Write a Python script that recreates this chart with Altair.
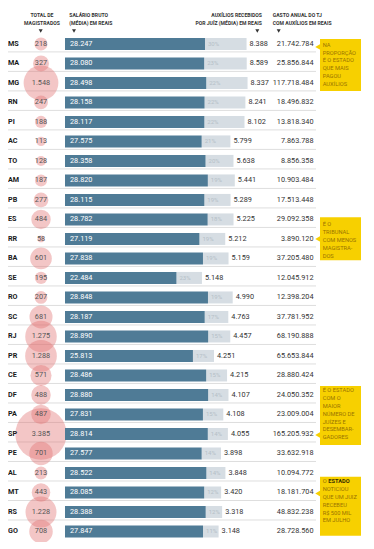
import altair as alt
import pandas as pd

estados = ["MS", "MA", "MG", "RN", "PI", "AC", "TO", "AM", "PB", "ES", "RR", "BA", "SE",
           "RO", "SC", "RJ", "PR", "CE", "DF", "PA", "SP", "PE", "AL", "MT", "RS", "GO"]
magistrados = [218, 327, 1548, 247, 188, 113, 128, 187, 277, 484, 58, 601, 195,
               207, 681, 1275, 1288, 571, 488, 487, 3385, 701, 213, 443, 1228, 708]
salario = [28247, 28080, 28498, 28158, 28117, 27575, 28358, 28820, 28115, 28782, 27119, 27838, 22484,
           28848, 28187, 28890, 25813, 28486, 28880, 27831, 28814, 27577, 28522, 28085, 28388, 27847]
auxilio = [8388, 8589, 8337, 8241, 8102, 5799, 5638, 5441, 5289, 5225, 5212, 5159, 5148,
           4990, 4763, 4457, 4251, 4215, 4107, 4108, 4055, 3898, 3848, 3420, 3318, 3148]
percentual = [30, 23, 22, 22, 22, 21, 20, 19, 19, 18, 19, 19, 23,
              19, 17, 15, 17, 15, 14, 15, 14, 14, 14, 12, 12, 11]
gasto = [21742784, 25856844, 117718484, 18496832, 13818340, 7863788, 8856358, 10903484, 17513448,
         29092358, 3890120, 37205480, 12045912, 12398204, 37781952, 68190888, 65653844, 28880424,
         24050352, 23009004, 165205932, 33632918, 10094772, 18181704, 48832238, 28728560]

cabecalhos = [
    (["TOTAL DE", "MAGISTRADOS"], 34, "center"),
    (["SALÁRIO BRUTO", "(MÉDIA) EM REAIS"], 61.3, "left"),
    (["AUXÍLIOS RECEBIDOS", "POR JUÍZ (MÉDIA) EM REAIS"], 254, "right"),
    (["GASTO ANUAL DO TJ", "COM AUXÍLIOS EM REAIS"], 264.7, "left"),
]
setas_cabecalho = [32.7, 66, 249.3, 270.7]

# callouts: (anchor state for box, box offset, box height, text lines, text dy, arrow state, arrow offset)
notas = [
    ("MA", 1.6, 52, ["NA", "PROPORÇÃO", "É O ESTADO", "QUE MAIS", "PAGOU", "AUXÍLIOS"], -21.7, "MS", 3),
    ("RR", -0.2, 43, ["É O", "TRIBUNAL", "COM MENOS", "MAGISTRA-", "DOS"], -17.5, "RR", 0),
    ("PA", 1.0, 59, ["É O ESTADO", "COM O", "MAIOR", "NÚMERO DE", "JUÍZES E", "DESEMBAR-", "GADORES"], -27, "SP", 1),
    ("RS", -5.7, 59, ["", "NOTICIOU", "QUE UM JUIZ", "RECEBEU", "R$ 500 MIL", "EM JULHO"], -33.5, "MT", 1),
]


def br(n):
    return f"{n:,}".replace(",", ".")


df = pd.DataFrame({"estado": estados, "magistrados": magistrados, "salario": salario,
                   "auxilio": auxilio, "pct": percentual, "gasto": gasto})
df["total"] = df.salario + df.auxilio
df["mag_lbl"] = df.magistrados.map(br)
df["sal_lbl"] = df.salario.map(br)
df["aux_lbl"] = df.auxilio.map(br)
df["gasto_lbl"] = df.gasto.map(br)
df["pct_lbl"] = df.pct.astype(str) + "%"

FONT = "Roboto, sans-serif"
YELLOW = "#f7d000"
NOTE_TXT = "#9a7400"

Y = alt.Y("estado:N", sort=estados, axis=None,
          scale=alt.Scale(range=[26.15, 533.25], paddingInner=0, paddingOuter=0))
XS = alt.Scale(domain=[0, 40000], range=[57, 255.24])

base = alt.Chart(df)

sep = base.transform_filter(alt.datum.estado != "GO").mark_rule(
    color="#dedede", strokeWidth=1, yOffset=8).encode(y=Y, x=alt.value(-1), x2=alt.value(308))

circles = base.mark_circle(color="#e07070", opacity=0.4).encode(
    y=Y, x=alt.value(33),
    size=alt.Size("magistrados:Q", scale=alt.Scale(domain=[0, 3385], range=[0, 2642]), legend=None))

mag_txt = base.mark_text(font=FONT, fontSize=7.3, color="#555").encode(
    y=Y, x=alt.value(33), text="mag_lbl:N")

state_txt = base.mark_text(font=FONT, fontSize=7.2, fontWeight="bold", align="left",
                           color="#1a1a1a").encode(y=Y, x=alt.value(0), text="estado:N")

gray = base.mark_bar(color="#d6dde3", size=12).encode(
    y=Y, x=alt.X("salario:Q", scale=XS, axis=None), x2="total:Q")
dark = base.mark_bar(color="#4f7b96", size=12).encode(
    y=Y, x=alt.X("salario:Q", scale=XS, axis=None))

sal_txt = base.mark_text(font=FONT, fontSize=7.3, color="white", align="left").encode(
    y=Y, x=alt.value(62), text="sal_lbl:N")
pct_txt = base.mark_text(font=FONT, fontSize=6, color="#b5bfc7", align="left", dx=3).encode(
    y=Y, x=alt.X("salario:Q", scale=XS, axis=None), text="pct_lbl:N")
aux_txt = base.mark_text(font=FONT, fontSize=7.3, color="#333", align="left", dx=3).encode(
    y=Y, x=alt.X("total:Q", scale=XS, axis=None), text="aux_lbl:N")
gasto_txt = base.mark_text(font=FONT, fontSize=7.3, color="#333", align="right").encode(
    y=Y, x=alt.value(305.5), text="gasto_lbl:N")

layers = [sep, circles, mag_txt, state_txt, gray, dark, sal_txt, pct_txt, aux_txt, gasto_txt]

one = alt.Chart(pd.DataFrame({"k": [0]}))
for lines, x, align in cabecalhos:
    layers.append(one.mark_text(text=lines, font=FONT, fontSize=5.1, fontWeight="bold", color="#333",
                                align=align, baseline="top", lineHeight=8.3)
                  .encode(x=alt.value(x), y=alt.value(4.8)))
for x in setas_cabecalho:
    layers.append(one.mark_point(shape="triangle-down", filled=True, size=16, color="#333", opacity=1)
                  .encode(x=alt.value(x), y=alt.value(23)))

for anchor, off, h, lines, tdy, arrow_state, arrow_off in notas:
    a = base.transform_filter(alt.datum.estado == anchor)
    layers.append(a.mark_bar(color=YELLOW, size=h, yOffset=off)
                  .encode(y=Y, x=alt.value(312), x2=alt.value(353)))
    layers.append(base.transform_filter(alt.datum.estado == arrow_state)
                  .mark_point(shape="triangle-left", filled=True, size=40, color=YELLOW, opacity=1,
                              yOffset=arrow_off)
                  .encode(y=Y, x=alt.value(310)))
    layers.append(a.mark_text(text=lines, font=FONT, fontSize=5.7, color=NOTE_TXT, align="left",
                              baseline="top", lineHeight=7.8, dy=tdy)
                  .encode(y=Y, x=alt.value(314.7)))
    if anchor == "RS":
        layers.append(a.mark_text(text="O", font=FONT, fontSize=5.7, color=NOTE_TXT, align="left",
                                  baseline="top", dy=tdy).encode(y=Y, x=alt.value(314.7)))
        layers.append(a.mark_text(text="ESTADO", font=FONT, fontSize=5.7, fontWeight="bold",
                                  color="#3a2e00", align="left", baseline="top", dy=tdy)
                      .encode(y=Y, x=alt.value(320.2)))

chart = alt.layer(*layers).properties(
    width=358, height=534, padding=0, autosize=alt.AutoSizeParams(type="none")
).configure_view(stroke=None)

chart.save("out.html", embed_options={"renderer": "svg", "actions": False})
